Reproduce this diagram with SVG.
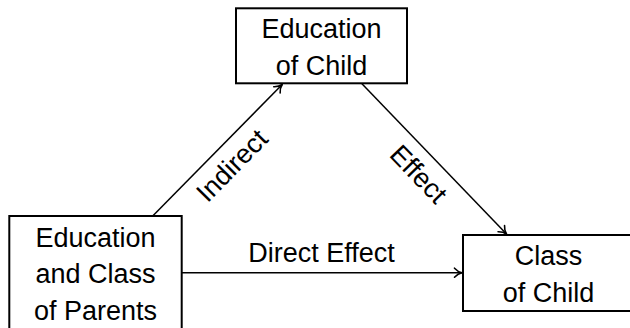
<svg xmlns="http://www.w3.org/2000/svg" width="630" height="328" viewBox="0 0 630 328">
  <style>
    .box { fill: #ffffff; stroke: #000000; stroke-width: 2; }
    .lbl { font-family: "Liberation Sans", Arial, sans-serif; font-size: 27px; fill: #000000; text-anchor: middle; }
    .edge { fill: none; stroke: #000000; stroke-width: 1.5; marker-end: url(#arr); }
  </style>
  <defs>
    <marker id="arr" markerUnits="userSpaceOnUse" markerWidth="16" markerHeight="16" viewBox="-10 -8 12 16" refX="0" refY="0" orient="auto">
      <path d="M-7.5,-4.5 C-5,-1.8 -2.2,-0.4 0,0 C-2.2,0.4 -5,1.8 -7.5,4.5" fill="none" stroke="#000000" stroke-width="1.6" stroke-linecap="round" stroke-linejoin="round"/>
    </marker>
  </defs>
  <rect width="630" height="328" fill="#ffffff"/>
  <g id="connectors">
    <line class="edge" x1="152.7" y1="216" x2="282.2" y2="84.5"/>
    <line class="edge" x1="361.7" y1="83.5" x2="506.5" y2="234"/>
    <line class="edge" x1="182" y1="272.7" x2="462" y2="272.7"/>
    <text class="lbl" transform="translate(238.5 172) rotate(-45.4)">Indirect</text>
    <text class="lbl" transform="translate(412 180.5) rotate(46)">Effect</text>
    <text class="lbl" x="321.5" y="261.7">Direct Effect</text>
  </g>
  <g id="node-education-child">
    <rect class="box" x="236" y="8.3" width="171" height="75"/>
    <text class="lbl" x="321.5" y="38.3">Education</text>
    <text class="lbl" x="321.5" y="75">of Child</text>
  </g>
  <g id="node-parents">
    <rect class="box" x="9.3" y="216" width="172.4" height="113.5"/>
    <text class="lbl" x="95.5" y="246.7">Education</text>
    <text class="lbl" x="95.5" y="283.3">and Class</text>
    <text class="lbl" x="95.5" y="319.5">of Parents</text>
  </g>
  <g id="node-class-child">
    <rect class="box" x="463" y="235" width="171" height="76"/>
    <text class="lbl" x="548.5" y="265">Class</text>
    <text class="lbl" x="548.5" y="301.7">of Child</text>
  </g>
</svg>
